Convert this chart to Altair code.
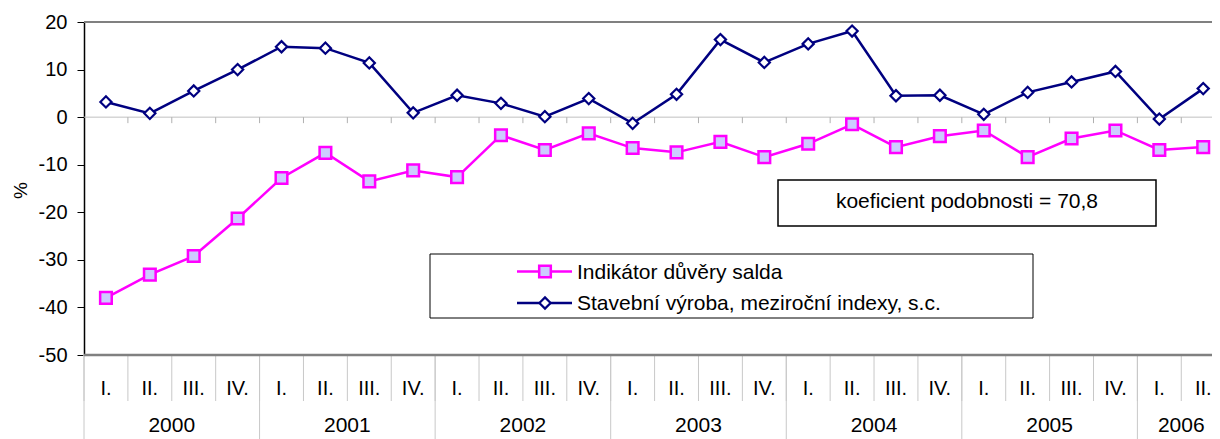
import altair as alt
import pandas as pd

# ---- data ----
years = ["2000"] * 4 + ["2001"] * 4 + ["2002"] * 4 + ["2003"] * 4 + ["2004"] * 4 + ["2005"] * 4 + ["2006"] * 2
quarters = ["I.", "II.", "III.", "IV."] * 6 + ["I.", "II."]
indikator = [-38.0, -33.1, -29.2, -21.3, -12.8, -7.5, -13.5, -11.2,
             -12.6, -3.8, -6.9, -3.4, -6.5, -7.4, -5.2, -8.4,
             -5.6, -1.5, -6.3, -4.0, -2.8, -8.4, -4.5, -2.8, -6.9, -6.3]
stavebni = [3.2, 0.8, 5.5, 10.0, 14.8, 14.5, 11.4, 0.9,
            4.6, 2.9, 0.1, 3.9, -1.3, 4.8, 16.3, 11.5,
            15.4, 18.1, 4.5, 4.6, 0.6, 5.2, 7.4, 9.6, -0.4, 6.0]
series_names = ["Indikátor důvěry salda", "Stavební výroba, meziroční indexy, s.c."]
y_ticks = [-50, -40, -30, -20, -10, 0, 10, 20]
annotation = "koeficient podobnosti = 70,8"

FONT = "Liberation Sans"
PINK = "#FF00FF"
PINK_FILL = "#CCCCFF"
NAVY = "#000080"
W, H = 1128, 333
X_END = 25.2

n = len(quarters)
df = pd.DataFrame({"idx": list(range(n)), "year": years, "quarter": quarters,
                   "ind": indikator, "sta": stavebni})

bounds = pd.DataFrame({"b": [i - 0.5 for i in range(n + 1)]})
inner_bounds = pd.DataFrame({"b": [i - 0.5 for i in range(1, n)]})
yb = [-0.5] + [i - 0.5 for i in range(1, n) if years[i] != years[i - 1]] + [n - 0.5]
year_bounds = pd.DataFrame({"b": yb})
year_df = df.groupby("year", as_index=False)["idx"].mean()

xs = alt.Scale(domain=[-0.5, X_END], nice=False, zero=False)
ys = alt.Scale(domain=[-50, 20], nice=False, zero=False)
one = pd.DataFrame({"a": [0]})


def X(f):
    return alt.X(f, type="quantitative", scale=xs, axis=None)


def YD(v):
    return alt.YDatum(v, type="quantitative", scale=ys)


yaxis = alt.Axis(values=y_ticks, title="%", grid=False, domainColor="black", domainWidth=1.5,
                 tickColor="black", tickSize=7, tickWidth=1, labelFont=FONT, labelFontSize=20,
                 labelColor="black", labelPadding=10, labelExpr="'' + datum.value",
                 titleFont=FONT, titleFontSize=19,
                 titleFontWeight="normal", titleColor="black", titleX=-64, titleY=168,
                 titleAngle=270, titleAlign="center", titleBaseline="middle")

# invisible layer carrying the y axis
axis_layer = alt.Chart(df).mark_point(opacity=0).encode(
    x=X("idx"), y=alt.Y("ind:Q", scale=ys, axis=yaxis))

zero_line = alt.Chart(one).mark_rule(color="#C0C0C0", strokeWidth=1).encode(
    y=YD(0), x=alt.value(0), x2=alt.value(W + 20))
zero_ticks = alt.Chart(inner_bounds).mark_rule(color="#B0B0B0", strokeWidth=1, y2Offset=6).encode(
    x=X("b"), y=YD(0), y2=alt.Y2Datum(0))
top_line = alt.Chart(one).mark_rule(color="#808080", strokeWidth=2).encode(
    y=YD(20), x=alt.value(0), x2=alt.value(W + 20))
q_sep = alt.Chart(bounds).mark_rule(color="#C8C8C8", strokeWidth=1, y2Offset=46).encode(
    x=X("b"), y=YD(-50), y2=alt.Y2Datum(-50))
y_sep = alt.Chart(year_bounds).mark_rule(color="#C8C8C8", strokeWidth=1, y2Offset=90).encode(
    x=X("b"), y=YD(-50), y2=alt.Y2Datum(-50))
bottom_line = alt.Chart(one).mark_rule(color="#808080", strokeWidth=2.5).encode(
    y=YD(-50), x=alt.value(0), x2=alt.value(W + 20))

q_labels = alt.Chart(df).mark_text(font=FONT, fontSize=20, baseline="alphabetic", dy=40, color="black").encode(
    x=X("idx"), y=YD(-50), text="quarter:N")
yr_labels = alt.Chart(year_df).mark_text(font=FONT, fontSize=21, baseline="alphabetic", dy=77, color="black").encode(
    x=X("idx"), y=YD(-50), text="year:N")

line_ind = alt.Chart(df).mark_line(color=PINK, strokeWidth=2.5).encode(
    x=X("idx"), y=alt.Y("ind:Q", scale=ys))
pts_ind = alt.Chart(df).mark_point(shape="square", filled=True, fill=PINK_FILL, stroke=PINK,
                                    strokeWidth=2.5, size=135, opacity=1).encode(
    x=X("idx"), y=alt.Y("ind:Q", scale=ys))
line_sta = alt.Chart(df).mark_line(color=NAVY, strokeWidth=2.5).encode(
    x=X("idx"), y=alt.Y("sta:Q", scale=ys))
pts_sta = alt.Chart(df).mark_point(shape="diamond", filled=True, fill="white", stroke=NAVY,
                                    strokeWidth=2.2, size=125, opacity=1).encode(
    x=X("idx"), y=alt.Y("sta:Q", scale=ys))

# annotation box
ann_box = alt.Chart(one).mark_rect(fill="white", stroke="black", strokeWidth=1.5).encode(
    x=alt.value(694), x2=alt.value(1072), y=alt.value(158), y2=alt.value(204))
ann_text = alt.Chart(one).mark_text(font=FONT, fontSize=21, align="center", baseline="alphabetic",
                                     color="black").encode(
    x=alt.value(883), y=alt.value(186), text=alt.value(annotation))

# legend
leg_box = alt.Chart(one).mark_rect(fill="white", stroke="black", strokeWidth=1).encode(
    x=alt.value(346), x2=alt.value(949), y=alt.value(232), y2=alt.value(296))
leg_l1 = alt.Chart(one).mark_rule(color=PINK, strokeWidth=2.5).encode(
    x=alt.value(433), x2=alt.value(488), y=alt.value(249.5))
leg_l2 = alt.Chart(one).mark_rule(color=NAVY, strokeWidth=2.5).encode(
    x=alt.value(433), x2=alt.value(488), y=alt.value(281))
leg_p1 = alt.Chart(one).mark_point(shape="square", filled=True, fill=PINK_FILL, stroke=PINK,
                                    strokeWidth=2.5, size=135, opacity=1).encode(
    x=alt.value(461), y=alt.value(249.5))
leg_p2 = alt.Chart(one).mark_point(shape="diamond", filled=True, fill="white", stroke=NAVY,
                                    strokeWidth=2.2, size=125, opacity=1).encode(
    x=alt.value(461), y=alt.value(281))
leg_t1 = alt.Chart(one).mark_text(font=FONT, fontSize=21, align="left", baseline="alphabetic",
                                   color="black").encode(
    x=alt.value(493), y=alt.value(257), text=alt.value(series_names[0]))
leg_t2 = alt.Chart(one).mark_text(font=FONT, fontSize=21, align="left", baseline="alphabetic",
                                   color="black").encode(
    x=alt.value(493), y=alt.value(288), text=alt.value(series_names[1]))

chart = alt.layer(
    axis_layer, zero_line, zero_ticks, top_line, q_sep, y_sep, bottom_line, q_labels, yr_labels,
    line_ind, line_sta, pts_ind, pts_sta,
    ann_box, ann_text, leg_box, leg_l1, leg_l2, leg_p1, leg_p2, leg_t1, leg_t2,
).properties(
    width=W, height=H,
    padding={"left": 76, "top": 14, "right": 0, "bottom": 84},
    autosize=alt.AutoSizeParams(type="none"),
    background="white",
).configure_view(stroke=None)

chart.save("out.html", embed_options={"renderer": "svg", "actions": False})
